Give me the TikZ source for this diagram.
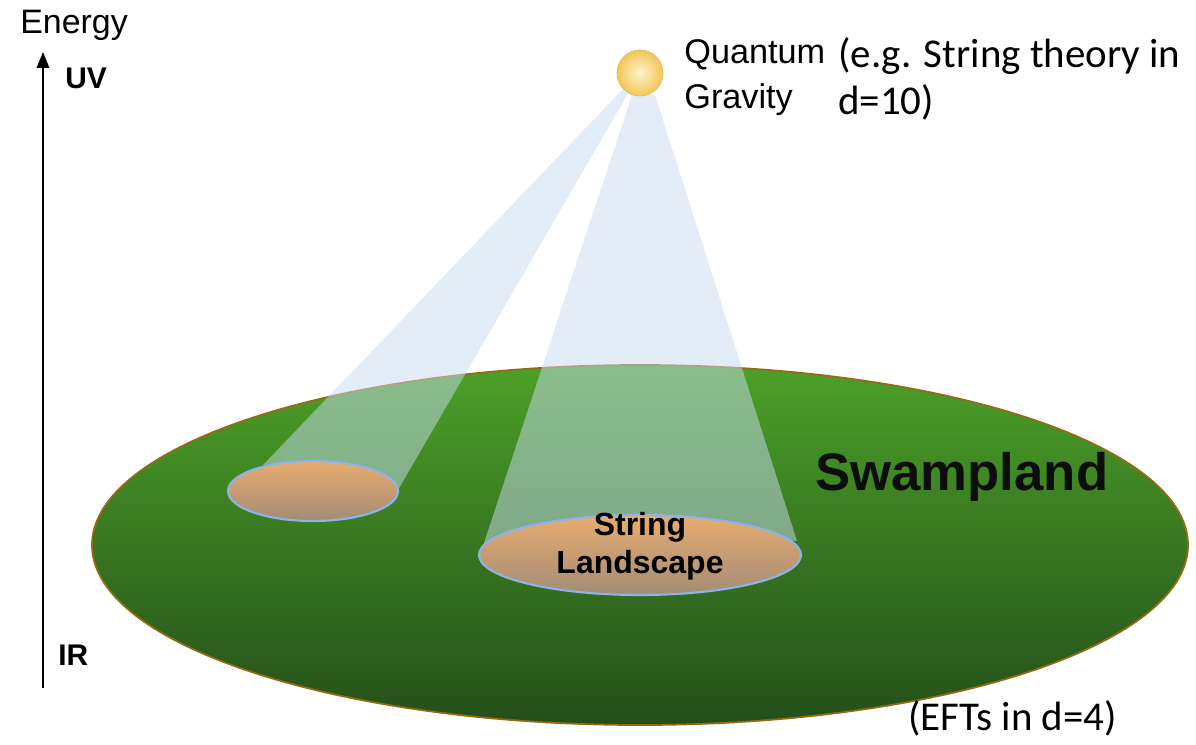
\documentclass[tikz,border=0pt]{standalone}
\usepackage{fontspec}
\setmainfont{Liberation Sans}
\newfontfamily\calibrifont{Carlito}
\usepackage{xcolor}
\definecolor{swgreentop}{RGB}{76,160,40}
\definecolor{swgreenbot}{RGB}{36,78,26}
\definecolor{swrim}{RGB}{150,105,20}
\definecolor{lsorange}{RGB}{232,172,112}
\definecolor{lsgray}{RGB}{162,140,118}
\definecolor{lsblue}{RGB}{140,180,235}
\definecolor{beamblue}{RGB}{200,220,240}
\definecolor{sunlight}{RGB}{252,242,205}
\definecolor{sunedge}{RGB}{242,198,88}
\usetikzlibrary{arrows.meta,positioning}

\begin{document}
\begin{tikzpicture}[x=0.02cm,y=-0.02cm,
  beam/.style={fill=beamblue,fill opacity=0.5},
  vacuum/.style={top color=lsorange,bottom color=lsgray,draw=lsblue,line width=1.2pt},
  axislabel/.style={font=\fontsize{17}{20}\selectfont\bfseries,anchor=base west,inner sep=0pt},
  note/.style={font=\calibrifont\fontsize{23.3}{27}\selectfont,anchor=north west,inner sep=0pt,align=left}]
  \useasboundingbox (0,0) rectangle (1196,744);
  % Swampland disc
  \shade[top color=swgreentop,bottom color=swgreenbot,draw=swrim,line width=1pt] (640,545) ellipse [x radius=548,y radius=180];
  % Light cones from quantum gravity
  \fill[beam] (622,90) -- (640,73) -- (398,490) -- (313,491) -- (263,465) -- cycle;
  \fill[beam] (633,92) -- (655,95) -- (797,541) -- (484,543) -- cycle;
  % Landscape patches
  \shade[vacuum] (313,491) ellipse [x radius=85,y radius=30];
  \shade[vacuum] (640,555) ellipse [x radius=161,y radius=40];
  \node[font=\fontsize{18.2}{21.5}\selectfont\bfseries,align=center,inner sep=0pt] (land) at (640,546) {String\\Landscape};
  \node[font=\fontsize{30}{36}\selectfont\bfseries,anchor=base west,inner sep=0pt,text=black!95] (swamp) at (815,490) {Swampland};
  % Quantum gravity
  \shade[inner color=sunlight,outer color=sunedge,draw=sunedge!85!gray,thin] (640,73) circle [radius=23];
  \node[font=\fontsize{19.5}{26}\selectfont,anchor=north west,inner sep=0pt,align=left] (qg) at (684,39) {Quantum\\Gravity};
  \node[note] (string) at (838,37) {(e.g. String theory in\\d=10)};
  \node[note] (eft) at (908,700) {(EFTs in d=4)};
  % Energy axis
  \coordinate (ir) at (43,688);
  \coordinate (uv) at (43,52);
  \draw[line width=1.2pt,-{Triangle[length=9pt,width=7pt]}] (ir) -- (uv);
  \node[font=\fontsize{19.3}{22}\selectfont,anchor=base west,inner sep=0pt] (energy) at (20,33) {Energy};
  \node[axislabel] (uvlabel) at (65,88) {UV};
  \node[axislabel] (irlabel) at (58,665) {IR};
\end{tikzpicture}
\end{document}
